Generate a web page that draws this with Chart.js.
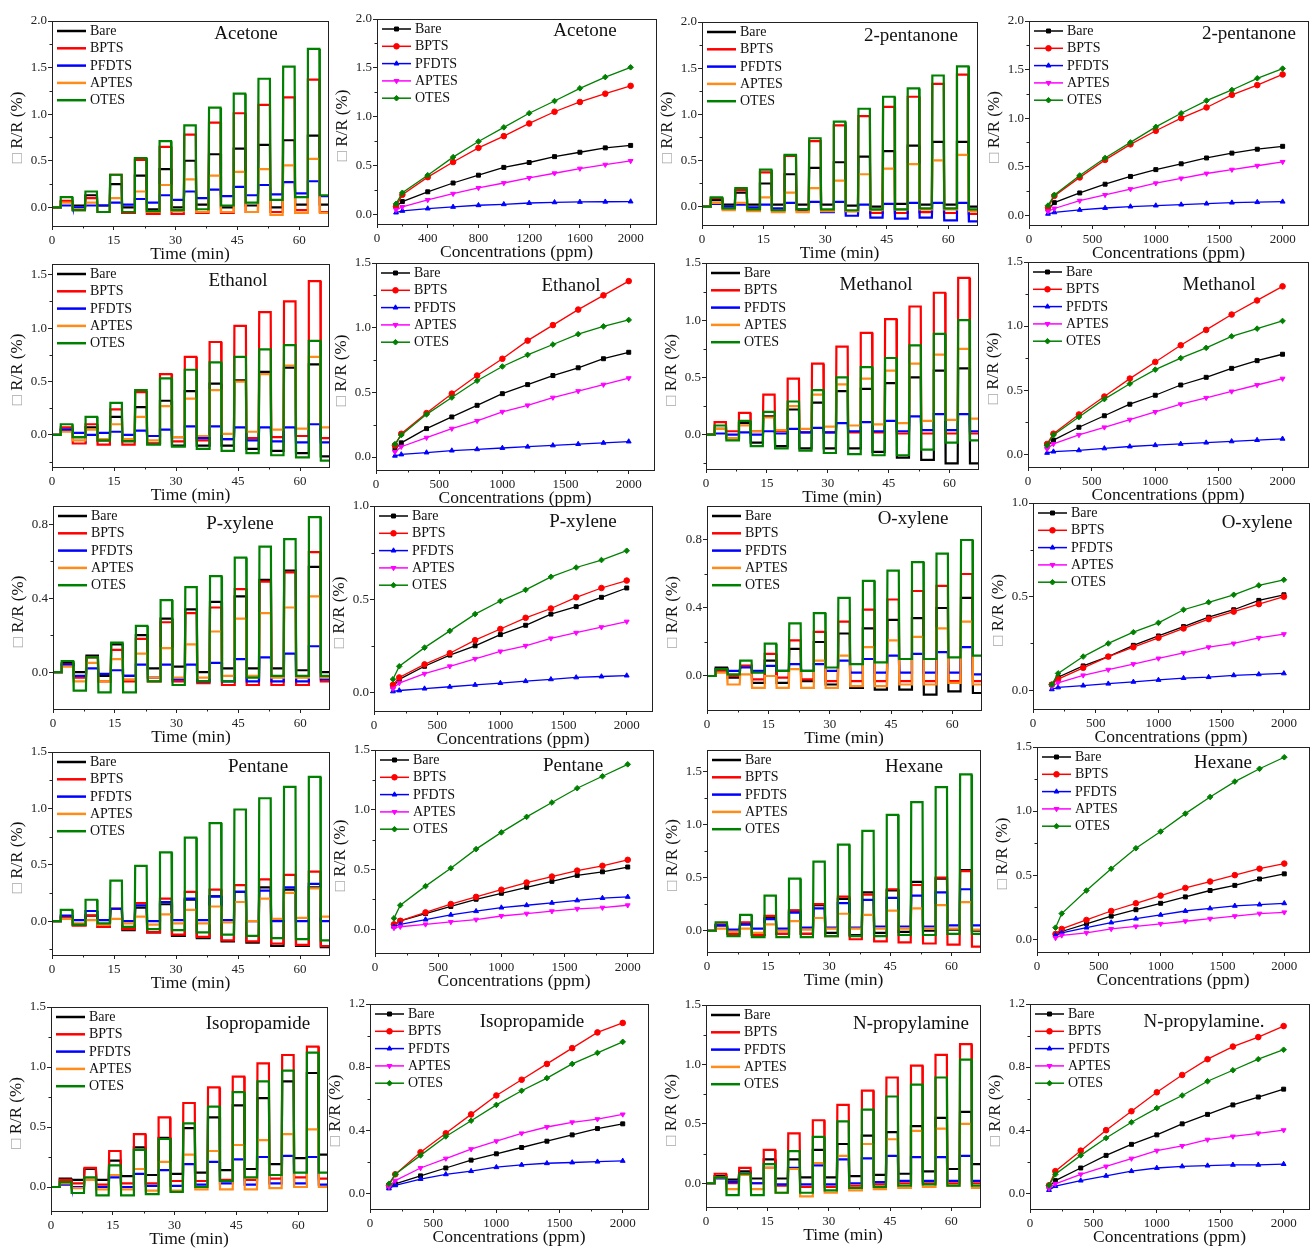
<!DOCTYPE html>
<html>
<head>
<meta charset="utf-8">
<script src="https://cdn.jsdelivr.net/npm/chart.js@4.4.1/dist/chart.umd.min.js"></script>
<style>
  html, body { margin: 0; padding: 0; background: #fff; }
  body { width: 1310px; height: 1248px; position: relative; overflow: hidden; }
  canvas.panel { position: absolute; }
</style>
</head>
<body>
<script>
// ---- shared labels / axes ----
const sensors = ['Bare', 'BPTS', 'PFDTS', 'APTES', 'OTES'];
const timeColors = ['#000000', '#ff0000', '#0000ff', '#ff8c1a', '#008000'];
const concColors = ['#000000', '#ff0000', '#0000ff', '#ff00ff', '#008000'];
const concMarkers = ['rect', 'circle', 'triangle', 'triangle', 'rectRot'];
const concPpm = [150, 200, 400, 600, 800, 1000, 1200, 1400, 1600, 1800, 2000];
const pulseOn = [2, 8, 14, 20, 26, 32, 38, 44, 50, 56, 62];
const pulseOff = [4.9, 10.9, 16.9, 22.9, 28.9, 34.9, 40.9, 46.9, 52.9, 58.9, 64.9];
const timeEnd = 67;

const ticksTime = [0, 15, 30, 45, 60];
const ticksPpm400 = [0, 400, 800, 1200, 1600, 2000];
const ticksPpm500 = [0, 500, 1000, 1500, 2000];
const ticksY2 = [0, 0.5, 1.0, 1.5, 2.0];
const ticksY15 = [0, 0.5, 1.0, 1.5];
const ticksY1 = [0, 0.5, 1.0];
const ticksY08 = [0, 0.4, 0.8];
const ticksY12 = [0, 0.4, 0.8, 1.2];

// ---- time traces: level at end of each exposure (top) and after recovery (low) ----
// rows: Bare, BPTS, PFDTS, APTES, OTES
const acetoneTop = [
  [0.06, 0.13, 0.25, 0.34, 0.41, 0.50, 0.57, 0.63, 0.67, 0.72, 0.77],
  [0.07, 0.10, 0.35, 0.51, 0.65, 0.78, 0.91, 1.01, 1.10, 1.18, 1.37],
  [0.02, 0.02, 0.05, 0.09, 0.13, 0.17, 0.19, 0.22, 0.24, 0.27, 0.28],
  [0.05, 0.05, 0.10, 0.17, 0.24, 0.30, 0.34, 0.38, 0.41, 0.45, 0.52],
  [0.11, 0.17, 0.35, 0.53, 0.71, 0.88, 1.07, 1.22, 1.38, 1.51, 1.70]
];
const acetoneLow = [
  [0.02, 0.02, 0.00, -0.02, 0.00, 0.03, 0.00, 0.02, 0.00, 0.03, 0.03],
  [-0.03, -0.05, -0.06, -0.07, -0.07, -0.06, -0.06, -0.05, -0.05, -0.03, -0.05],
  [0.00, 0.02, 0.03, 0.05, 0.08, 0.10, 0.12, 0.13, 0.14, 0.15, 0.12],
  [-0.02, -0.05, -0.05, -0.05, -0.04, -0.05, -0.05, -0.05, -0.08, -0.06, -0.06],
  [-0.03, -0.05, -0.05, -0.04, -0.03, -0.02, 0.02, 0.05, 0.08, 0.11, 0.13]
];
const pentanoneTop = [
  [0.07, 0.15, 0.25, 0.35, 0.42, 0.48, 0.54, 0.60, 0.66, 0.70, 0.70],
  [0.09, 0.18, 0.37, 0.55, 0.71, 0.88, 0.98, 1.08, 1.19, 1.33, 1.43],
  [0.03, 0.02, 0.02, 0.04, 0.05, 0.05, 0.02, 0.03, 0.04, 0.04, 0.04],
  [0.04, 0.04, 0.10, 0.15, 0.20, 0.28, 0.35, 0.41, 0.46, 0.50, 0.56],
  [0.10, 0.20, 0.40, 0.56, 0.74, 0.92, 1.06, 1.19, 1.28, 1.42, 1.52]
];
const pentanoneLow = [
  [0.02, 0.02, 0.02, 0.02, 0.02, 0.01, 0.00, 0.03, 0.02, 0.02, 0.00],
  [-0.02, -0.03, -0.04, -0.04, -0.05, -0.05, -0.07, -0.07, -0.06, -0.07, -0.08],
  [0.00, -0.01, -0.02, -0.03, -0.06, -0.10, -0.12, -0.13, -0.12, -0.15, -0.16],
  [-0.04, -0.05, -0.06, -0.06, -0.05, -0.05, -0.04, -0.03, -0.03, -0.03, -0.05],
  [-0.02, -0.03, -0.04, -0.03, -0.03, -0.04, -0.03, -0.03, -0.02, -0.02, -0.03]
];
const ethanolTop = [
  [0.05, 0.07, 0.17, 0.26, 0.32, 0.41, 0.48, 0.51, 0.59, 0.63, 0.66],
  [0.07, 0.10, 0.24, 0.40, 0.57, 0.73, 0.87, 1.02, 1.15, 1.25, 1.44],
  [0.05, 0.00, 0.03, 0.04, 0.05, 0.08, 0.08, 0.07, 0.07, 0.07, 0.10],
  [0.03, 0.05, 0.10, 0.17, 0.27, 0.34, 0.42, 0.50, 0.57, 0.65, 0.73],
  [0.10, 0.17, 0.30, 0.42, 0.53, 0.61, 0.68, 0.73, 0.80, 0.84, 0.88]
];
const ethanolLow = [
  [-0.02, -0.05, -0.05, -0.08, -0.10, -0.10, -0.10, -0.13, -0.15, -0.17, -0.20],
  [-0.08, -0.09, -0.09, -0.08, -0.06, -0.05, -0.04, -0.03, -0.02, -0.01, -0.03],
  [0.02, 0.02, 0.00, -0.01, -0.02, -0.03, -0.04, -0.05, -0.06, -0.07, -0.07],
  [-0.05, -0.04, -0.04, -0.05, -0.02, -0.01, 0.01, 0.03, 0.05, 0.06, 0.07],
  [-0.02, -0.05, -0.06, -0.09, -0.11, -0.13, -0.15, -0.17, -0.19, -0.21, -0.24]
];
const methanolTop = [
  [0.05, 0.10, 0.16, 0.22, 0.28, 0.38, 0.40, 0.45, 0.50, 0.56, 0.58],
  [0.11, 0.19, 0.35, 0.49, 0.62, 0.77, 0.89, 1.01, 1.12, 1.24, 1.37],
  [0.01, 0.02, 0.03, 0.05, 0.06, 0.10, 0.11, 0.12, 0.16, 0.18, 0.18],
  [0.05, 0.08, 0.15, 0.25, 0.35, 0.44, 0.49, 0.56, 0.62, 0.70, 0.75],
  [0.08, 0.12, 0.20, 0.29, 0.39, 0.50, 0.59, 0.67, 0.78, 0.88, 1.00]
];
const methanolLow = [
  [-0.03, -0.07, -0.10, -0.12, -0.12, -0.12, -0.15, -0.20, -0.22, -0.25, -0.25],
  [0.03, 0.03, 0.03, 0.02, 0.02, 0.02, 0.02, 0.01, 0.01, 0.01, 0.01],
  [0.00, 0.00, 0.01, 0.02, 0.02, 0.03, 0.03, 0.03, 0.04, 0.04, 0.03],
  [-0.03, 0.03, 0.04, 0.05, 0.07, 0.08, 0.09, 0.10, 0.12, 0.13, 0.14],
  [-0.05, -0.10, -0.12, -0.14, -0.16, -0.17, -0.18, -0.18, -0.13, -0.07, -0.05]
];
const pxyleneTop = [
  [0.05, 0.09, 0.15, 0.20, 0.29, 0.34, 0.38, 0.41, 0.50, 0.55, 0.57],
  [0.04, 0.08, 0.12, 0.18, 0.27, 0.32, 0.35, 0.45, 0.49, 0.54, 0.65],
  [0.04, 0.02, 0.01, 0.04, 0.04, 0.04, 0.05, 0.07, 0.08, 0.10, 0.14],
  [0.03, 0.05, 0.07, 0.10, 0.13, 0.15, 0.22, 0.29, 0.32, 0.35, 0.41],
  [0.06, 0.08, 0.16, 0.25, 0.39, 0.46, 0.52, 0.62, 0.68, 0.72, 0.84]
];
const pxyleneLow = [
  [0.00, -0.02, -0.02, 0.02, 0.03, 0.00, 0.02, 0.02, 0.02, 0.01, 0.00],
  [-0.03, -0.05, -0.05, -0.05, -0.05, -0.06, -0.07, -0.07, -0.07, -0.07, -0.05],
  [-0.02, -0.01, -0.02, -0.03, -0.04, -0.05, -0.05, -0.05, -0.05, -0.05, -0.04],
  [-0.05, -0.05, -0.04, -0.03, -0.03, -0.03, -0.02, -0.02, -0.03, -0.03, -0.03],
  [-0.10, -0.11, -0.11, -0.05, -0.07, -0.05, -0.05, -0.03, -0.02, -0.02, -0.02]
];
const oxyleneTop = [
  [0.05, 0.06, 0.09, 0.16, 0.20, 0.25, 0.28, 0.33, 0.34, 0.40, 0.46],
  [0.03, 0.06, 0.13, 0.21, 0.26, 0.32, 0.39, 0.45, 0.50, 0.53, 0.60],
  [0.04, 0.05, 0.06, 0.07, 0.07, 0.09, 0.10, 0.12, 0.13, 0.14, 0.17],
  [0.02, 0.01, 0.00, 0.04, 0.09, 0.12, 0.17, 0.21, 0.23, 0.28, 0.32],
  [0.04, 0.09, 0.19, 0.31, 0.37, 0.46, 0.56, 0.62, 0.67, 0.72, 0.80]
];
const oxyleneLow = [
  [-0.01, -0.04, -0.04, -0.03, -0.05, -0.07, -0.08, -0.08, -0.11, -0.09, -0.10],
  [0.00, -0.02, -0.01, -0.02, -0.03, -0.03, -0.03, -0.03, -0.03, -0.03, -0.03],
  [0.03, 0.03, 0.03, 0.03, 0.03, 0.02, 0.02, 0.02, 0.02, 0.02, 0.01],
  [-0.05, -0.07, -0.07, -0.07, -0.07, -0.06, -0.06, -0.05, -0.05, -0.04, -0.05],
  [0.01, 0.02, 0.03, 0.03, 0.05, 0.07, 0.08, 0.10, 0.10, 0.11, 0.12]
];
const pentaneTop = [
  [0.03, 0.05, 0.11, 0.12, 0.15, 0.19, 0.22, 0.26, 0.30, 0.28, 0.30],
  [0.04, 0.05, 0.11, 0.16, 0.20, 0.26, 0.28, 0.32, 0.37, 0.41, 0.44],
  [0.05, 0.09, 0.11, 0.14, 0.17, 0.20, 0.22, 0.26, 0.27, 0.30, 0.33],
  [0.02, 0.01, 0.02, 0.04, 0.06, 0.10, 0.13, 0.17, 0.20, 0.25, 0.29],
  [0.10, 0.19, 0.36, 0.49, 0.61, 0.74, 0.87, 0.99, 1.09, 1.19, 1.28]
];
const pentaneLow = [
  [-0.03, -0.05, -0.08, -0.10, -0.13, -0.15, -0.18, -0.19, -0.22, -0.22, -0.23],
  [-0.04, -0.05, -0.07, -0.10, -0.12, -0.14, -0.17, -0.18, -0.20, -0.21, -0.22],
  [0.01, 0.01, 0.00, 0.00, 0.01, 0.01, 0.01, 0.00, 0.00, 0.00, 0.00],
  [-0.02, -0.03, -0.02, -0.03, -0.02, -0.02, -0.01, 0.00, 0.02, 0.03, 0.04],
  [-0.03, -0.02, -0.05, -0.07, -0.08, -0.10, -0.12, -0.13, -0.15, -0.16, -0.17]
];
const hexaneTop = [
  [0.05, 0.06, 0.12, 0.19, 0.24, 0.30, 0.36, 0.38, 0.46, 0.49, 0.57],
  [0.06, 0.08, 0.14, 0.19, 0.25, 0.32, 0.34, 0.39, 0.43, 0.50, 0.56],
  [0.05, 0.06, 0.11, 0.17, 0.21, 0.26, 0.29, 0.31, 0.33, 0.36, 0.39],
  [0.02, 0.02, 0.06, 0.09, 0.12, 0.16, 0.15, 0.19, 0.21, 0.24, 0.27],
  [0.08, 0.15, 0.33, 0.49, 0.65, 0.81, 0.94, 1.09, 1.21, 1.35, 1.47]
];
const hexaneLow = [
  [-0.02, -0.04, -0.03, -0.03, -0.02, -0.04, -0.02, -0.01, 0.00, 0.01, 0.00],
  [-0.03, -0.04, -0.03, -0.03, -0.05, -0.08, -0.10, -0.11, -0.12, -0.13, -0.15],
  [0.01, 0.02, 0.02, 0.03, 0.03, 0.03, 0.04, 0.04, 0.04, 0.05, 0.05],
  [-0.01, -0.02, 0.00, 0.01, 0.02, 0.02, 0.02, 0.02, 0.02, 0.02, 0.01],
  [-0.05, -0.06, -0.06, -0.06, -0.05, -0.05, -0.05, -0.04, -0.04, -0.03, -0.03]
];
const isoTop = [
  [0.07, 0.15, 0.22, 0.33, 0.41, 0.49, 0.58, 0.68, 0.74, 0.88, 0.95],
  [0.06, 0.16, 0.30, 0.44, 0.58, 0.70, 0.83, 0.92, 1.03, 1.10, 1.17],
  [0.02, 0.06, 0.08, 0.11, 0.14, 0.19, 0.21, 0.23, 0.25, 0.26, 0.25],
  [0.03, 0.06, 0.10, 0.15, 0.21, 0.27, 0.30, 0.35, 0.39, 0.44, 0.48],
  [0.04, 0.08, 0.18, 0.31, 0.40, 0.53, 0.67, 0.79, 0.88, 0.97, 1.12]
];
const isoLow = [
  [0.06, 0.06, 0.09, 0.10, 0.11, 0.12, 0.14, 0.15, 0.19, 0.24, 0.27],
  [0.03, 0.02, 0.03, 0.03, 0.05, 0.05, 0.06, 0.06, 0.07, 0.08, 0.07],
  [0.00, 0.00, 0.00, 0.01, 0.01, 0.02, 0.03, 0.02, 0.03, 0.03, 0.02],
  [-0.01, -0.02, -0.02, -0.03, -0.03, -0.02, -0.02, -0.02, -0.01, 0.00, 0.00],
  [-0.05, -0.07, -0.07, -0.06, -0.04, 0.00, 0.05, 0.08, 0.10, 0.12, 0.12]
];
const propylTop = [
  [0.06, 0.10, 0.20, 0.20, 0.28, 0.33, 0.40, 0.43, 0.48, 0.55, 0.60],
  [0.08, 0.13, 0.28, 0.42, 0.53, 0.66, 0.78, 0.89, 0.99, 1.08, 1.17],
  [0.04, 0.08, 0.13, 0.13, 0.15, 0.20, 0.21, 0.23, 0.22, 0.22, 0.23],
  [0.05, 0.07, 0.13, 0.12, 0.17, 0.23, 0.33, 0.37, 0.44, 0.46, 0.50],
  [0.05, 0.08, 0.16, 0.27, 0.39, 0.52, 0.62, 0.73, 0.83, 0.89, 1.04]
];
const propylLow = [
  [0.03, 0.04, 0.04, 0.05, 0.05, 0.06, 0.07, 0.08, 0.10, 0.12, 0.16],
  [0.00, 0.00, -0.02, -0.03, -0.03, -0.02, -0.01, 0.00, 0.00, 0.00, 0.00],
  [0.01, 0.00, -0.01, -0.01, -0.01, 0.00, 0.01, 0.02, 0.02, 0.02, 0.02],
  [-0.05, -0.05, -0.08, -0.11, -0.08, -0.06, -0.05, -0.04, -0.03, -0.02, -0.04],
  [-0.10, -0.10, -0.08, -0.08, -0.06, -0.04, -0.03, -0.02, -0.01, -0.02, -0.02]
];

// ---- response vs concentration ----
const acetoneConc = [
  [0.08, 0.13, 0.23, 0.32, 0.40, 0.48, 0.53, 0.59, 0.635, 0.68, 0.705],
  [0.08, 0.20, 0.38, 0.535, 0.68, 0.80, 0.93, 1.05, 1.15, 1.235, 1.315],
  [0.017, 0.034, 0.058, 0.075, 0.092, 0.102, 0.115, 0.122, 0.126, 0.128, 0.13],
  [0.045, 0.075, 0.147, 0.21, 0.27, 0.32, 0.372, 0.42, 0.468, 0.508, 0.546],
  [0.106, 0.22, 0.40, 0.585, 0.745, 0.89, 1.035, 1.16, 1.29, 1.405, 1.505]
];
const pentanoneConc = [
  [0.06, 0.13, 0.23, 0.32, 0.40, 0.47, 0.53, 0.59, 0.64, 0.68, 0.71],
  [0.08, 0.20, 0.39, 0.57, 0.73, 0.87, 1.00, 1.11, 1.24, 1.34, 1.45],
  [0.015, 0.03, 0.055, 0.075, 0.09, 0.10, 0.11, 0.12, 0.13, 0.135, 0.14],
  [0.04, 0.07, 0.15, 0.21, 0.27, 0.33, 0.38, 0.43, 0.47, 0.51, 0.55],
  [0.10, 0.21, 0.41, 0.59, 0.75, 0.91, 1.05, 1.18, 1.29, 1.41, 1.51]
];
const ethanolConc = [
  [0.06, 0.11, 0.22, 0.31, 0.40, 0.49, 0.56, 0.63, 0.69, 0.76, 0.81],
  [0.09, 0.18, 0.34, 0.49, 0.63, 0.76, 0.90, 1.02, 1.14, 1.25, 1.36],
  [0.01, 0.02, 0.035, 0.05, 0.06, 0.07, 0.08, 0.09, 0.10, 0.11, 0.12],
  [0.04, 0.08, 0.15, 0.22, 0.28, 0.35, 0.40, 0.46, 0.51, 0.56, 0.61],
  [0.10, 0.17, 0.33, 0.46, 0.59, 0.70, 0.79, 0.87, 0.95, 1.01, 1.06]
];
const methanolConc = [
  [0.06, 0.11, 0.21, 0.30, 0.39, 0.46, 0.54, 0.60, 0.67, 0.73, 0.78],
  [0.08, 0.16, 0.31, 0.45, 0.59, 0.72, 0.85, 0.97, 1.09, 1.20, 1.31],
  [0.01, 0.02, 0.03, 0.045, 0.06, 0.07, 0.08, 0.09, 0.10, 0.11, 0.12],
  [0.04, 0.08, 0.15, 0.21, 0.27, 0.33, 0.39, 0.44, 0.49, 0.54, 0.59],
  [0.07, 0.15, 0.29, 0.43, 0.55, 0.66, 0.75, 0.83, 0.92, 0.98, 1.04]
];
const pxyleneConc = [
  [0.03, 0.07, 0.14, 0.20, 0.25, 0.31, 0.36, 0.42, 0.46, 0.51, 0.56],
  [0.04, 0.08, 0.15, 0.21, 0.28, 0.34, 0.40, 0.45, 0.51, 0.56, 0.60],
  [0.005, 0.01, 0.02, 0.03, 0.04, 0.05, 0.06, 0.07, 0.08, 0.085, 0.09],
  [0.02, 0.05, 0.10, 0.14, 0.18, 0.22, 0.25, 0.29, 0.32, 0.35, 0.38],
  [0.07, 0.14, 0.24, 0.33, 0.42, 0.49, 0.55, 0.62, 0.67, 0.71, 0.76]
];
const oxyleneConc = [
  [0.03, 0.07, 0.13, 0.18, 0.24, 0.29, 0.34, 0.39, 0.43, 0.48, 0.51],
  [0.03, 0.06, 0.12, 0.18, 0.23, 0.28, 0.33, 0.38, 0.42, 0.46, 0.50],
  [0.005, 0.015, 0.025, 0.035, 0.045, 0.055, 0.065, 0.07, 0.08, 0.085, 0.09],
  [0.02, 0.04, 0.08, 0.11, 0.14, 0.17, 0.20, 0.23, 0.25, 0.28, 0.30],
  [0.03, 0.09, 0.18, 0.25, 0.31, 0.36, 0.43, 0.47, 0.51, 0.56, 0.59]
];
const pentaneConc = [
  [0.03, 0.07, 0.13, 0.19, 0.25, 0.30, 0.35, 0.40, 0.45, 0.48, 0.52],
  [0.04, 0.07, 0.14, 0.21, 0.27, 0.33, 0.39, 0.44, 0.49, 0.53, 0.58],
  [0.02, 0.04, 0.08, 0.12, 0.15, 0.18, 0.20, 0.22, 0.24, 0.26, 0.27],
  [0.01, 0.02, 0.04, 0.06, 0.08, 0.11, 0.13, 0.15, 0.17, 0.18, 0.20],
  [0.09, 0.20, 0.36, 0.51, 0.67, 0.81, 0.94, 1.06, 1.18, 1.28, 1.38]
];
const hexaneConc = [
  [0.04, 0.06, 0.12, 0.18, 0.23, 0.28, 0.33, 0.38, 0.42, 0.47, 0.51],
  [0.04, 0.08, 0.15, 0.22, 0.28, 0.34, 0.40, 0.45, 0.50, 0.55, 0.59],
  [0.03, 0.05, 0.09, 0.13, 0.16, 0.19, 0.22, 0.24, 0.26, 0.27, 0.28],
  [0.01, 0.03, 0.05, 0.08, 0.10, 0.12, 0.14, 0.16, 0.18, 0.20, 0.21],
  [0.09, 0.20, 0.38, 0.55, 0.71, 0.84, 0.98, 1.11, 1.23, 1.33, 1.42]
];
const isoConc = [
  [0.04, 0.06, 0.11, 0.16, 0.21, 0.25, 0.29, 0.33, 0.37, 0.41, 0.44],
  [0.05, 0.12, 0.26, 0.38, 0.50, 0.62, 0.72, 0.82, 0.92, 1.02, 1.08],
  [0.03, 0.05, 0.09, 0.12, 0.14, 0.165, 0.18, 0.19, 0.195, 0.20, 0.205],
  [0.04, 0.08, 0.16, 0.22, 0.28, 0.33, 0.38, 0.42, 0.45, 0.47, 0.50],
  [0.06, 0.12, 0.24, 0.36, 0.46, 0.56, 0.65, 0.73, 0.82, 0.89, 0.96]
];
const propylConc = [
  [0.04, 0.08, 0.16, 0.24, 0.31, 0.37, 0.44, 0.50, 0.56, 0.61, 0.66],
  [0.05, 0.14, 0.27, 0.40, 0.52, 0.64, 0.75, 0.85, 0.93, 0.99, 1.06],
  [0.02, 0.045, 0.08, 0.11, 0.14, 0.16, 0.17, 0.175, 0.18, 0.18, 0.185],
  [0.03, 0.06, 0.12, 0.17, 0.22, 0.27, 0.30, 0.34, 0.36, 0.38, 0.40],
  [0.05, 0.12, 0.24, 0.35, 0.45, 0.54, 0.62, 0.71, 0.78, 0.85, 0.91]
];

// ---- panel layout: plot area [left, top, right, bottom] in page px ----
const panels = [
  { name: 'Acetone', kind: 'time', top: acetoneTop, low: acetoneLow, area: [52, 21, 328, 226], y: [-0.2, 2.0], yt: ticksY2, xt: ticksTime, label: [246, 34] },
  { name: 'Acetone', kind: 'conc', vals: acetoneConc, area: [377, 19, 656, 224], y: [-0.1, 2.0], yt: ticksY2, xt: ticksPpm400, label: [585, 31] },
  { name: '2-pentanone', kind: 'time', top: pentanoneTop, low: pentanoneLow, area: [702, 22, 977, 225], y: [-0.2, 2.0], yt: ticksY2, xt: ticksTime, label: [911, 36] },
  { name: '2-pentanone', kind: 'conc', vals: pentanoneConc, area: [1029, 21, 1308, 225], y: [-0.1, 2.0], yt: ticksY2, xt: ticksPpm500, label: [1249, 34] },

  { name: 'Ethanol', kind: 'time', top: ethanolTop, low: ethanolLow, area: [52, 264, 329, 467], y: [-0.3, 1.6], yt: ticksY15, xt: ticksTime, label: [238, 281] },
  { name: 'Ethanol', kind: 'conc', vals: ethanolConc, area: [376, 263, 654, 470], y: [-0.1, 1.5], yt: ticksY15, xt: ticksPpm500, label: [571, 286] },
  { name: 'Methanol', kind: 'time', top: methanolTop, low: methanolLow, area: [706, 263, 978, 469], y: [-0.3, 1.5], yt: ticksY15, xt: ticksTime, label: [876, 285] },
  { name: 'Methanol', kind: 'conc', vals: methanolConc, area: [1028, 262, 1308, 467], y: [-0.1, 1.5], yt: ticksY15, xt: ticksPpm500, label: [1219, 285] },

  { name: 'P-xylene', kind: 'time', top: pxyleneTop, low: pxyleneLow, area: [53, 506, 329, 709], y: [-0.2, 0.9], yt: ticksY08, xt: ticksTime, label: [240, 524] },
  { name: 'P-xylene', kind: 'conc', vals: pxyleneConc, area: [374, 506, 652, 711], y: [-0.1, 1.0], yt: ticksY1, xt: ticksPpm500, label: [583, 522] },
  { name: 'O-xylene', kind: 'time', top: oxyleneTop, low: oxyleneLow, area: [707, 506, 981, 710], y: [-0.2, 1.0], yt: ticksY08, xt: ticksTime, label: [913, 519] },
  { name: 'O-xylene', kind: 'conc', vals: oxyleneConc, area: [1033, 503, 1309, 709], y: [-0.1, 1.0], yt: ticksY1, xt: ticksPpm500, label: [1257, 523] },

  { name: 'Pentane', kind: 'time', top: pentaneTop, low: pentaneLow, area: [52, 752, 329, 955], y: [-0.3, 1.5], yt: ticksY15, xt: ticksTime, label: [258, 767] },
  { name: 'Pentane', kind: 'conc', vals: pentaneConc, area: [375, 750, 653, 953], y: [-0.2, 1.5], yt: ticksY15, xt: ticksPpm500, label: [573, 766] },
  { name: 'Hexane', kind: 'time', top: hexaneTop, low: hexaneLow, area: [707, 750, 980, 952], y: [-0.2, 1.7], yt: ticksY15, xt: ticksTime, label: [914, 767] },
  { name: 'Hexane', kind: 'conc', vals: hexaneConc, area: [1037, 747, 1309, 952], y: [-0.1, 1.5], yt: ticksY15, xt: ticksPpm500, label: [1223, 763] },

  { name: 'Isopropamide', kind: 'time', top: isoTop, low: isoLow, area: [51, 1007, 327, 1211], y: [-0.2, 1.5], yt: ticksY15, xt: ticksTime, label: [258, 1024] },
  { name: 'Isopropamide', kind: 'conc', vals: isoConc, area: [370, 1004, 648, 1209], y: [-0.1, 1.2], yt: ticksY12, xt: ticksPpm500, label: [532, 1022] },
  { name: 'N-propylamine', kind: 'time', top: propylTop, low: propylLow, area: [706, 1005, 980, 1207], y: [-0.2, 1.5], yt: ticksY15, xt: ticksTime, label: [911, 1024] },
  { name: 'N-propylamine.', kind: 'conc', vals: propylConc, area: [1030, 1004, 1309, 1209], y: [-0.1, 1.2], yt: ticksY12, xt: ticksPpm500, label: [1204, 1022] }
];

const SERIF = '"Liberation Serif", "Times New Roman", "DejaVu Serif", serif';
const PAD_L = 45, PAD_T = 10, PAD_R = 8, AX_H = 39, PAD_B = 2;

function tracePoints(top, low) {
  const pts = [{ x: 0, y: 0 }];
  let prev = 0;
  for (let k = 0; k < pulseOn.length; k++) {
    pts.push({ x: pulseOn[k], y: prev });
    pts.push({ x: pulseOn[k] + 0.12, y: top[k] });
    pts.push({ x: pulseOff[k], y: top[k] });
    pts.push({ x: pulseOff[k] + 0.12, y: low[k] });
    prev = low[k];
  }
  pts.push({ x: timeEnd, y: prev });
  return pts;
}

const panelDecor = {
  id: 'panelDecor',
  afterDatasetsDraw(chart, args, opts) {
    const { ctx, chartArea: a } = chart;
    const xs = chart.scales.x, ys = chart.scales.y;
    ctx.save();
    // frame
    ctx.strokeStyle = '#222';
    ctx.lineWidth = 1;
    ctx.strokeRect(Math.round(a.left) + 0.5, Math.round(a.top) + 0.5,
      Math.round(a.right - a.left), Math.round(a.bottom - a.top));
    // minor ticks between majors
    ctx.beginPath();
    const xt = opts.xt, yt = opts.yt;
    for (let i = 0; i < xt.length; i++) {
      const step = xt[1] - xt[0];
      const v = xt[i] + step / 2;
      if (v < xs.max) {
        const px = Math.round(xs.getPixelForValue(v)) + 0.5;
        ctx.moveTo(px, a.bottom); ctx.lineTo(px, a.bottom + 2.5);
      }
    }
    for (let i = 0; i < yt.length; i++) {
      const step = yt[1] - yt[0];
      [yt[i] - step / 2, yt[i] + step / 2].forEach(v => {
        if (v > ys.min && v < ys.max && (i === 0 || v > yt[i])) {
          const py = Math.round(ys.getPixelForValue(v)) + 0.5;
          ctx.moveTo(a.left, py); ctx.lineTo(a.left - 2.5, py);
        }
      });
    }
    ctx.stroke();

    // legend
    ctx.font = '14px ' + SERIF;
    ctx.textBaseline = 'middle';
    ctx.textAlign = 'left';
    chart.data.datasets.forEach((ds, i) => {
      const y = a.top + 10 + i * 17.3;
      const x0 = a.left + 5, x1 = x0 + 29;
      ctx.strokeStyle = ds.borderColor;
      ctx.lineWidth = opts.kind === 'time' ? 2.5 : 1.5;
      ctx.beginPath(); ctx.moveTo(x0, y); ctx.lineTo(x1, y); ctx.stroke();
      if (opts.kind === 'conc' && Chart.helpers && Chart.helpers.drawPoint) {
        ctx.fillStyle = ds.backgroundColor;
        ctx.lineWidth = 1;
        Chart.helpers.drawPoint(ctx, {
          pointStyle: ds.pointStyle, rotation: ds.pointRotation || 0,
          radius: ds.pointRadius, borderWidth: 1
        }, (x0 + x1) / 2, y);
      }
      ctx.fillStyle = '#111';
      ctx.fillText(ds.label, a.left + 38, y + 0.5);
    });

    // gas name
    ctx.font = '19px ' + SERIF;
    ctx.textAlign = 'center';
    ctx.fillStyle = '#111';
    ctx.fillText(opts.name, opts.nameX, opts.nameY);

    // y title:  "□ R/R (%)"
    ctx.translate(a.left - 34, (a.top + a.bottom) / 2 + 4);
    ctx.rotate(-Math.PI / 2);
    ctx.font = '17px ' + SERIF;
    ctx.textAlign = 'left';
    const box = '\u25A1', rest = ' R/R (%)';
    const wb = ctx.measureText(box).width, wr = ctx.measureText(rest).width;
    const start = -(wb + wr) / 2;
    ctx.fillStyle = '#a8a8a8';
    ctx.fillText(box, start, 0);
    ctx.fillStyle = '#111';
    ctx.fillText(rest, start + wb, 0);
    ctx.restore();
  }
};

panels.forEach(p => {
  const [aL, aT, aR, aB] = p.area;
  const cL = aL - PAD_L, cT = aT - PAD_T;
  const cW = aR - aL + PAD_L + PAD_R, cH = aB - aT + PAD_T + AX_H + PAD_B;
  const cv = document.createElement('canvas');
  cv.className = 'panel';
  cv.width = cW; cv.height = cH;
  cv.style.left = cL + 'px'; cv.style.top = cT + 'px';
  cv.style.width = cW + 'px'; cv.style.height = cH + 'px';
  document.body.appendChild(cv);

  let datasets;
  if (p.kind === 'time') {
    datasets = sensors.map((s, i) => ({
      label: s,
      data: tracePoints(p.top[i], p.low[i]),
      borderColor: timeColors[i],
      backgroundColor: timeColors[i],
      borderWidth: 2.2,
      pointRadius: 0,
      tension: 0,
      order: sensors.length - i
    }));
  } else {
    datasets = sensors.map((s, i) => ({
      label: s,
      data: concPpm.map((c, j) => ({ x: c, y: p.vals[i][j] })),
      borderColor: concColors[i],
      backgroundColor: concColors[i],
      borderWidth: 1.3,
      pointStyle: concMarkers[i],
      pointRotation: i === 3 ? 180 : 0,
      pointRadius: 2.8,
      pointBorderWidth: 1,
      tension: 0,
      order: sensors.length - i
    }));
  }

  const tickFont = { family: SERIF, size: 13 };
  new Chart(cv, {
    type: 'line',
    data: { datasets },
    plugins: [panelDecor],
    options: {
      responsive: false,
      animation: false,
      devicePixelRatio: 1,
      layout: { padding: { left: 0, top: PAD_T, right: PAD_R, bottom: PAD_B } },
      plugins: {
        legend: { display: false },
        tooltip: { enabled: false },
        panelDecor: {
          kind: p.kind, name: p.name, xt: p.xt, yt: p.yt,
          nameX: p.label[0] - cL, nameY: p.label[1] - cT
        }
      },
      scales: {
        x: {
          type: 'linear',
          min: 0,
          max: p.kind === 'time' ? timeEnd : 2200,
          afterBuildTicks: ax => { ax.ticks = p.xt.map(v => ({ value: v })); },
          afterFit: ax => { ax.height = AX_H; },
          border: { display: false },
          grid: { drawOnChartArea: false, drawTicks: true, tickLength: 4, color: '#222' },
          ticks: { color: '#222', font: tickFont, padding: 3, maxRotation: 0, autoSkip: false,
                   callback: v => String(v) },
          title: {
            display: true,
            text: p.kind === 'time' ? 'Time (min)' : 'Concentrations (ppm)',
            color: '#111',
            font: { family: SERIF, size: 17.5 },
            padding: { top: 0, bottom: 0 }
          }
        },
        y: {
          type: 'linear',
          min: p.y[0],
          max: p.y[1],
          afterBuildTicks: ax => { ax.ticks = p.yt.map(v => ({ value: v })); },
          afterFit: ax => { ax.width = PAD_L; },
          border: { display: false },
          grid: { drawOnChartArea: false, drawTicks: true, tickLength: 4, color: '#222' },
          ticks: { color: '#222', font: tickFont, padding: 1, autoSkip: false,
                   callback: v => Number(v).toFixed(1) },
          title: { display: false }
        }
      }
    }
  });
});
</script>
</body>
</html>
